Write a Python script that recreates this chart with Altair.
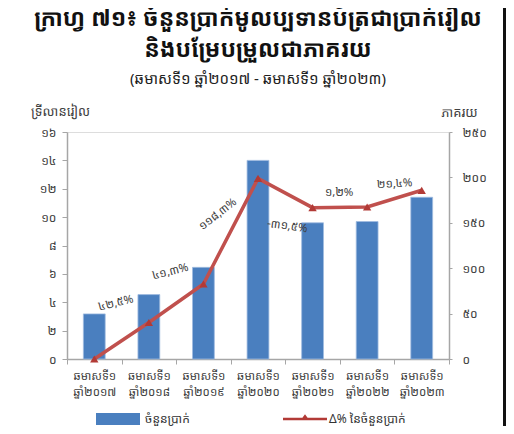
import altair as alt
import pandas as pd

FONT = "Noto Sans Khmer, Khmer OS, Khmer OS System, Noto Serif Khmer, Noto Sans, sans-serif"

categories = ["ឆមាសទី១|ឆ្នាំ២០១៧", "ឆមាសទី១|ឆ្នាំ២០១៨", "ឆមាសទី១|ឆ្នាំ២០១៩",
              "ឆមាសទី១|ឆ្នាំ២០២០", "ឆមាសទី១|ឆ្នាំ២០២១", "ឆមាសទី១|ឆ្នាំ២០២២",
              "ឆមាសទី១|ឆ្នាំ២០២៣"]
amounts = [3.18, 4.54, 6.46, 14.0, 9.6, 9.69, 11.4]
index_values = [0, 40.2, 82.6, 198.8, 166.7, 167.4, 185.8]
pct_labels = ["", "៤២,៥%", "៤១,៣%", "១១៨,៣%", "-៣១,៥%", "១,២%", "២១,៤%"]
left_ticks = [0, 2, 4, 6, 8, 10, 12, 14, 16]
right_ticks = [0, 50, 100, 150, 200, 250]
khmer_digits = "០១២៣៤៥៦៧៨៩"

bar_name = "ចំនួនប្រាក់"
line_name = "Δ% នៃចំនួនប្រាក់"

df = pd.DataFrame({
    "cat": categories,
    "amount": amounts,
    "idx": index_values,
    "lbl": pct_labels,
    "s_bar": [bar_name] * len(categories),
    "s_line": [line_name] * len(categories),
})


def khmer_expr():
    e = "datum.label"
    for d in range(10):
        for _ in range(3):
            e = f"replace({e}, '{d}', '{khmer_digits[d]}')"
    return e


KH = khmer_expr()

x_enc = alt.X("cat:N", sort=None, title=None,
              scale=alt.Scale(paddingInner=0, paddingOuter=0),
              axis=alt.Axis(labelExpr="split(datum.label, '|')", labelAngle=0,
                            tickBand="extent", domainColor="#a6a6a6", tickColor="#a6a6a6",
                            domainWidth=1.5, tickWidth=1, tickSize=5, labelPadding=6,
                            labelFontSize=11.5, labelColor="#404040", labelFont=FONT,
                            labelLineHeight=16))

base = alt.Chart(df)

bars = base.mark_bar(width=alt.RelativeBandSize(0.4), stroke="#9fbbe0", strokeWidth=0.8).encode(
    x=x_enc,
    y=alt.Y("amount:Q", scale=alt.Scale(domain=[0, 16]),
            axis=alt.Axis(values=left_ticks, grid=False, orient="left",
                          labelExpr=KH,
                          title="ទ្រីលានរៀល", titleAngle=0, titleX=-7, titleY=-21,
                          titleAlign="center", titleBaseline="middle",
                          titleFontSize=13, titleFontWeight="normal", titleColor="#404040",
                          titleFont=FONT,
                          domainColor="#a6a6a6", tickColor="#a6a6a6", domainWidth=1.5,
                          tickSize=5, labelPadding=6, labelFontSize=12, labelColor="#404040",
                          labelFont=FONT)),
    fill=alt.Fill("s_bar:N", scale=alt.Scale(domain=[bar_name], range=["#4a7fbf"]),
                  legend=alt.Legend(title=None, orient="none", legendX=29, legendY=265,
                                    symbolType="M-1,-0.27H1V0.27H-1Z", symbolSize=1936,
                                    symbolStrokeWidth=0, labelFontSize=12,
                                    labelColor="#333333", labelFont=FONT, labelOffset=5)),
)

y_right = alt.Y("idx:Q", scale=alt.Scale(domain=[0, 250]),
                axis=alt.Axis(values=right_ticks, grid=False, orient="right",
                              title="ភាគរយ", titleAngle=0, titleX=10, titleY=-20,
                              titleAlign="center", titleBaseline="middle",
                              titleFontSize=13, titleFontWeight="normal", titleColor="#404040",
                              titleFont=FONT,
                              labelExpr=KH,
                              domainColor="#a6a6a6", tickColor="#a6a6a6", domainWidth=1.5,
                              tickSize=3, labelPadding=10, labelFontSize=12,
                              labelColor="#404040", labelFont=FONT))

line = base.mark_line(color="#c0504d", strokeWidth=3.5).encode(x=x_enc, y=y_right)

points = base.mark_point(shape="triangle-up", filled=True, size=70, opacity=1).encode(
    x=x_enc, y=y_right,
    fill=alt.Fill("s_line:N", scale=alt.Scale(domain=[line_name], range=["#b23a36"]),
                  legend=alt.Legend(title=None, orient="none", legendX=216, legendY=265,
                                    symbolType="M-1,-0.06H1V0.06H-1Z M-0.2,0.06L0,-0.22L0.2,0.06Z",
                                    symbolSize=1936, symbolStrokeWidth=0, labelFontSize=12,
                                    labelColor="#333333", labelFont=FONT, labelOffset=2)),
)

label_style = [
    (1, -27.4, -26.4, 346),
    (2, -29.1, -19.6, 346),
    (3, -53.7, 3.8, 322),
    (4, -22.5, 22.2, 8),
    (5, -28.0, -14.0, 0),
    (6, -26.7, -7.4, 357),
]
texts = []
for i, dx, dy, ang in label_style:
    texts.append(
        base.transform_filter(alt.datum.cat == categories[i])
        .mark_text(dx=dx, dy=dy, angle=ang, align="center", baseline="middle",
                   fontSize=11.5, color="#404040", font=FONT)
        .encode(x=x_enc, y=y_right, text="lbl:N")
    )

frame = alt.Chart(df).mark_rule(color="#111111", strokeWidth=3).encode(
    x=alt.value(438), y=alt.value(-124), y2=alt.value(294))

right = alt.layer(line, points, *texts, frame)

chart = alt.layer(bars, right).resolve_scale(y="independent", fill="independent").properties(
    width=382, height=227,
    padding={"left": 59, "top": 124, "right": 57, "bottom": 67},
    autosize=alt.AutoSizeParams(type="none"),
    title=alt.TitleParams(
        text=["ក្រាហ្វ ៧១៖ ចំនួនប្រាក់មូលប្បទានប័ត្រជាប្រាក់រៀល", "និងបម្រែបម្រួលជាភាគរយ"],
        subtitle="(ឆមាសទី១ ឆ្នាំ២០១៧ - ឆមាសទី១ ឆ្នាំ២០២៣)",
        fontSize=23, fontWeight="bold", font=FONT, color="#111111", lineHeight=31,
        subtitleFontSize=15, subtitleFont=FONT, subtitleColor="#222222",
        subtitleFontWeight="normal",
        subtitlePadding=10, anchor="middle", offset=-80,
    ),
).configure_view(stroke=None).configure(background="white")

chart.save("out.html", embed_options={"renderer": "svg", "actions": False})
